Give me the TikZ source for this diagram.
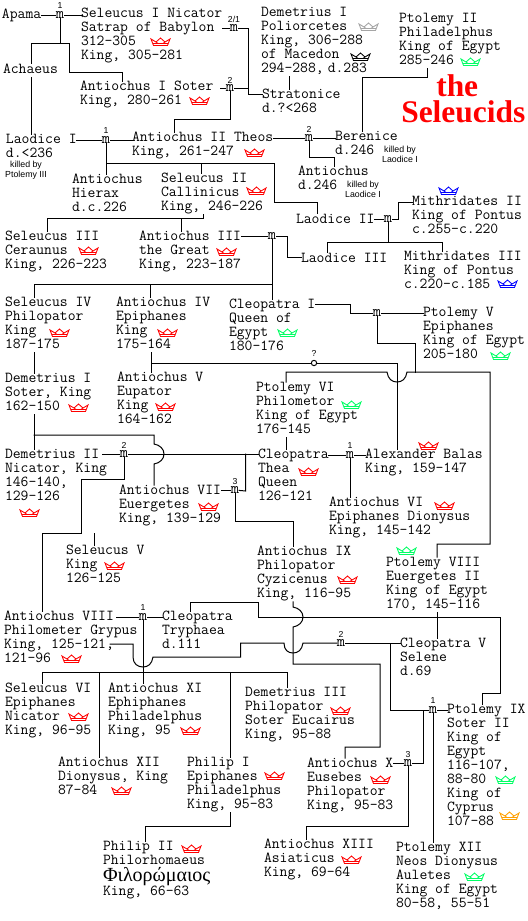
\documentclass[tikz,border=0pt]{standalone}
\usepackage{fontspec}
\newfontfamily\greekfont{Liberation Serif}
\newfontfamily\titlefont{Liberation Serif}
\newfontfamily\notefont{Liberation Sans}
\definecolor{crR}{RGB}{255,0,0}
\definecolor{crG}{RGB}{0,255,100}
\definecolor{crB}{RGB}{0,0,255}
\definecolor{crO}{RGB}{255,160,0}
\definecolor{crA}{RGB}{165,165,165}
\definecolor{crK}{RGB}{0,0,0}
\tikzset{
  person/.style={anchor=north west,inner sep=0pt,outer sep=0pt,align=left,
    font=\ttfamily\fontsize{11.43pt}{10.5pt}\selectfont,
    execute at begin node=\strut,execute at end node=\strut},
  killnote/.style={anchor=north,inner sep=0pt,outer sep=0pt,align=center,
    font=\notefont\fontsize{6.6pt}{7.5pt}\selectfont,
    execute at begin node=\strut,execute at end node=\strut},
  marr/.style={inner sep=0pt,outer sep=0pt,font=\ttfamily\fontsize{12pt}{12pt}\selectfont},
  mnum/.style={inner sep=0pt,outer sep=0pt,font=\notefont\fontsize{6.5pt}{6.5pt}\selectfont},
  ring/.style={circle,draw=black,line width=.75pt,minimum size=4pt,inner sep=0pt,outer sep=0pt},
  title/.style={anchor=base west,inner sep=0pt,text=crR,font=\titlefont\bfseries\fontsize{23.6pt}{24pt}\selectfont},
  cn/.style={draw=black,line width=.75pt,line cap=rect,line join=miter},
  crown/.pic={
    \path[pic actions,line width=.65pt,line join=miter]
      (0,1) -- (5,4) -- (9.5,0) -- (14,4) -- (19,1) -- (16.5,7.5) -- (2.5,7.5) -- cycle
      (2,5.5) -- (17,5.5) (5,4) -- (7,5.5) (14,4) -- (12,5.5);
  }
}
\newcommand\pers[4]{\node[person] (#1) at (#2,{#3-9.8}) {#4};}
\newcommand\note[4]{\node[killnote] (#1) at (#2,{#3-7}) {#4};}
\newcommand\crownat[3]{\pic[draw=#1] at (#2,#3) {crown};}
\newcommand\marrat[3]{\node[marr] (#1) at (#2,#3) {m};}
\newcommand\numat[4]{\node[mnum] (#1) at (#2,{#3-1}) {#4};}
\begin{document}
\begin{tikzpicture}[x=.75pt,y=-.75pt]
\useasboundingbox (0,0) rectangle (528,921);
\fill[white] (0,0) rectangle (528,921);
% ---------- people
\pers{apama}{2}{18}{Apama}
\pers{sel1}{81}{18}{Seleucus I Nicator\\Satrap of Babylon\\312-305\\King, 305-281}
\pers{achaeus}{3}{73}{Achaeus}
\pers{anti1}{80}{91}{Antiochus I Soter\\King, 280-261}
\pers{dem1p}{261}{17}{Demetrius I\\Poliorcetes\\King, 306-288\\of Macedon\\294-288,\kern3pt d.283}
\pers{strat}{262}{99}{Stratonice\\d.?<268}
\pers{ptol2}{399}{23}{Ptolemy II\\Philadelphus\\King of Egypt\\285-246}
\node[title] (tthe) at (436,96) {the};
\node[title] (tsel) at (401,122) {Seleucids};
\pers{laod1}{6}{144}{Laodice I\\d.<236}
\note{n1}{26}{168}{killed by\\Ptolemy III}
\pers{anti2}{132}{142}{Antiochus II Theos\\King, 261-247}
\pers{beren}{335}{141}{Berenice\\d.246}
\note{n2}{400}{153}{killed by\\Laodice I}
\pers{antid}{298}{176}{Antiochus\\d.246}
\note{n3}{363}{188}{killed by\\Laodice I}
\pers{hierax}{72}{184}{Antiochus\\Hierax\\d.c.226}
\pers{sel2}{161}{183}{Seleucus II\\Callinicus\\King, 246-226}
\pers{laod2}{296}{223}{Laodice II}
\pers{mith2}{412}{206}{Mithridates II\\King of Pontus\\c.255-c.220}
\pers{sel3}{5}{241}{Seleucus III\\Ceraunus\\King, 226-223}
\pers{anti3}{139}{241}{Antiochus III\\the Great\\King, 223-187}
\pers{laod3}{301}{262}{Laodice III}
\pers{mith3}{404}{261}{Mithridates III\\King of Pontus\\c.220-c.185}
\pers{sel4}{5}{307}{Seleucus IV\\Philopator\\King\\187-175}
\pers{anti4}{116}{307}{Antiochus IV\\Epiphanes\\King\\175-164}
\pers{cleo1}{229}{309}{Cleopatra I\\Queen of\\Egypt\\180-176}
\pers{ptol5}{423}{317}{Ptolemy V\\Epiphanes\\King of Egypt\\205-180}
\pers{anti5}{117}{382}{Antiochus V\\Eupator\\King\\164-162}
\pers{dem1s}{5}{383}{Demetrius I\\Soter, King\\162-150}
\pers{ptol6}{256}{392}{Ptolemy VI\\Philometor\\King of Egypt\\176-145}
\pers{dem2}{5}{459}{Demetrius II\\Nicator, King\\146-140,\\129-126}
\pers{cleoT}{258}{459}{Cleopatra\\Thea\\Queen\\126-121}
\pers{alex}{365}{459}{Alexander Balas\\King, 159-147}
\pers{anti7}{119}{495}{Antiochus VII\\Euergetes\\King, 139-129}
\pers{anti6}{329}{507}{Antiochus VI\\Epiphanes Dionysus\\King, 145-142}
\pers{sel5}{66}{555}{Seleucus V\\King\\126-125}
\pers{anti9}{257}{556}{Antiochus IX\\Philopator\\Cyzicenus\\King, 116-95}
\pers{ptol8}{386}{567}{Ptolemy VIII\\Euergetes II\\King of Egypt\\170, 145-116}
\pers{anti8}{4}{621}{Antiochus VIII\\Philometer Grypus\\King, 125-121,\\121-96}
\pers{tryph}{162}{621}{Cleopatra\\Tryphaea\\d.111}
\pers{cleoV}{400}{648}{Cleopatra V\\Selene\\d.69}
\pers{sel6}{5}{693}{Seleucus VI\\Epiphanes\\Nicator\\King, 96-95}
\pers{anti11}{108}{693}{Antiochus XI\\Ephiphanes\\Philadelphus\\King, 95}
\pers{dem3}{245}{697}{Demetrius III\\Philopator\\Soter Eucairus\\King, 95-88}
\pers{ptol9}{447}{714}{Ptolemy IX\\Soter II\\King of\\Egypt\\116-107,\\88-80\\King of\\Cyprus\\107-88}
\pers{anti12}{58}{767}{Antiochus XII\\Dionysus, King\\87-84}
\pers{phil1}{187}{767}{Philip I\\Epiphanes\\Philadelphus\\King, 95-83}
\pers{anti10}{307}{768}{Antiochus X\\Eusebes\\Philopator\\King, 95-83}
\pers{anti13}{264}{849}{Antiochus XIII\\Asiaticus\\King, 69-64}
\pers{phil2}{103}{851}{Philip II\\Philorhomaeus\\[2.25pt]\smash{\greekfont\fontsize{15pt}{10.5pt}\selectfont Φιλορώμαιος}\\King, 66-63}
\pers{ptol12}{396}{852}{Ptolemy XII\\Neos Dionysus\\Auletes\\King of Egypt\\80-58, 55-51}
% ---------- marriage marks
\marrat{mA}{60}{15}\numat{lA}{60}{7}{1}
\marrat{mS}{234}{28}\numat{lS}{234}{20}{2/1}
\marrat{mB}{230}{88}\numat{lB}{230}{81}{2}
\marrat{mC}{106}{140}\numat{lC}{106}{132}{1}
\marrat{mD}{309}{138}\numat{lD}{309}{130}{2}
\marrat{mE}{388}{219}
\marrat{mF}{272}{236}
\marrat{mG}{377}{313}
\node[ring] (mQ) at (314,363) {};\numat{lQ}{314}{354}{?}
\marrat{mH}{124}{454}\numat{lH}{124}{446}{2}
\marrat{mI}{350}{455}\numat{lI}{350}{447}{1}
\marrat{mJ}{235}{490}\numat{lJ}{235}{483}{3}
\marrat{mK}{143}{617}\numat{lK}{143}{609}{1}
\marrat{mL}{341}{643}\numat{lL}{341}{635}{2}
\marrat{mM}{433}{710}\numat{lM}{433}{702}{1}
\marrat{mN}{408}{763}\numat{lN}{408}{756}{3}
% ---------- connectors
\draw[cn] (apama.east |- mA) -- (mA);
\draw[cn] (mA) -- (sel1.west |- mA);
\draw[cn] (mA) -- (60,43) -- (31,43) -- (31,0 |- achaeus.north);
\draw[cn] (60,43) -- (69.5,43) -- (69.5,72) -- (122.5,72) -- (122.5,0 |- anti1.north);
\draw[cn] (31,0 |- achaeus.south) -- (31,0 |- laod1.north);
\draw[cn] (sel1.east |- mS) -- (mS);
\draw[cn] (mS) -- (248,28) -- (248,94) -- (strat.west |- 248,94);
\draw[cn] (220,88) -- (mB);
\draw[cn] (mB) -- (248,88);
\draw[cn] (mB) -- (230,119) -- (174.5,119) -- (174.5,0 |- anti2.north);
\draw[cn] (289,0 |- dem1p.south) -- (289,0 |- strat.north);
\draw[cn] (427,0 |- ptol2.south) -- (427,77) -- (362,77) -- (362,0 |- beren.north);
\draw[cn] (laod1.east |- mC) -- (mC);
\draw[cn] (mC) -- (anti2.west |- mC);
\draw[cn] (mC) -- (mC |- hierax.north);
\draw[cn] (106,163) -- (274,163) -- (274,202) -- (317,202) -- (317,0 |- laod2.north);
\draw[cn] (201,163) -- (201,0 |- sel2.north);
\draw[cn] (anti2.east |- mD) -- (mD);
\draw[cn] (mD) -- (beren.west |- mD);
\draw[cn] (mD) -- (309,157) -- (334,157) -- (334,0 |- antid.north);
\draw[cn] (203,0 |- sel2.south) -- (203,218) -- (47,218) -- (47,0 |- sel3.north);
\draw[cn] (181,218) -- (181,0 |- anti3.north);
\draw[cn] (laod2.east |- mE) -- (mE);
\draw[cn] (mE) -- (398,219) -- (398,202) -- (mith2.west |- 398,202);
\draw[cn] (mE) -- (388,242);
\draw[cn] (327,0 |- laod3.north) -- (327,242) -- (442,242) -- (442,0 |- mith3.north);
\draw[cn] (anti3.east |- mF) -- (mF);
\draw[cn] (mF) -- (287,236) -- (287,257) -- (laod3.west |- 287,257);
\draw[cn] (mF) -- (272,0 |- cleo1.north);
\draw[cn] (34,0 |- sel4.north) -- (34,284) -- (272,284);
\draw[cn] (150,284) -- (150,0 |- anti4.north);
\draw[cn] (cleo1.east |- 0,304) -- (350,304) -- (350,313) -- (mG);
\draw[cn] (mG) -- (ptol5.west |- mG);
\draw[cn] (mG) -- (377,343) -- (415,343) -- (415,372);
\draw[cn] (286,0 |- ptol6.north) -- (286,372) -- (387,372)
   .. controls (388,379) and (392,382) .. (397,382)
   .. controls (402,382) and (406,379) .. (407,372)
   -- (490,372) -- (490,544) -- (437,544) -- (437,0 |- ptol8.north);
\draw[cn] (151,0 |- anti4.south) -- (151,0 |- anti5.north);
\draw[cn] (151,363) -- (mQ);
\draw[cn] (mQ) -- (397,363) -- (397,0 |- alex.north);
\draw[cn] (34,0 |- sel4.south) -- (34,0 |- dem1s.north);
\draw[cn] (34,0 |- dem1s.south) -- (34,0 |- dem2.north);
\draw[cn] (34,435) -- (154,435) -- (154,444)
   .. controls (160,445) and (164,449) .. (164,454)
   .. controls (164,459) and (160,463) .. (154,464)
   -- (154,0 |- anti7.north);
\draw[cn] (102,454) -- (mH);
\draw[cn] (mH) -- (cleoT.west |- mH);
\draw[cn] (mH) -- (124,479) -- (81.5,479) -- (81.5,533) -- (42,533) -- (42,0 |- anti8.north);
\draw[cn] (94,533) -- (94,0 |- sel5.north);
\draw[cn] (286,0 |- ptol6.south) -- (286,0 |- cleoT.north);
\draw[cn] (cleoT.east |- mI) -- (mI);
\draw[cn] (mI) -- (alex.west |- mI);
\draw[cn] (mI) -- (mI |- anti6.north);
\draw[cn] (245.5,454) -- (245.5,491) -- (mJ);
\draw[cn] (anti7.east |- mJ) -- (mJ);
\draw[cn] (mJ) -- (235,521) -- (293,521) -- (293,0 |- anti9.north);
\draw[cn] (116,617) -- (mK);
\draw[cn] (mK) -- (tryph.west |- mK);
\draw[cn] (190,0 |- tryph.north) -- (190,602.5) -- (258,602.5) -- (258,617) -- (500,617) -- (500,693) -- (482,693) -- (482,0 |- ptol9.north);
\draw[cn] (mK) -- (mK |- anti11.north);
\draw[cn] (42,0 |- sel6.north) -- (42,672) -- (287,672) -- (287,0 |- dem3.north);
\draw[cn] (99.5,672) -- (99.5,0 |- anti12.north);
\draw[cn] (230.5,672) -- (230.5,0 |- phil1.north);
\draw[cn] (110,644) -- (133,644) -- (133,657)
   .. controls (133,664) and (138,667) .. (143,667)
   .. controls (148,667) and (152,664) .. (153,657)
   -- (240.5,657) -- (240.5,643) -- (284,643)
   .. controls (284,650) and (288,653) .. (293,653)
   .. controls (298,653) and (302,650) .. (303,643)
   -- (mL);
\draw[cn] (mL) -- (cleoV.west |- mL);
\draw[cn] (293,0 |- anti9.south) -- (293,607)
   .. controls (299,608) and (303,612) .. (303,617)
   .. controls (303,622) and (299,626) .. (293,627)
   -- (293,664) -- (380,664) -- (380,747) -- (345,747) -- (345,0 |- anti10.north);
\draw[cn] (437,0 |- ptol8.south) -- (437,0 |- cleoV.north);
\draw[cn] (390.5,643) -- (390.5,710) -- (mM);
\draw[cn] (mM) -- (ptol9.west |- mM);
\draw[cn] (423,710) -- (423,763) -- (mN);
\draw[cn] (anti10.east |- mN) -- (mN);
\draw[cn] (mN) -- (408,826) -- (306,826) -- (306,0 |- anti13.north);
\draw[cn] (mM) -- (mM |- ptol12.north);
\draw[cn] (230.5,0 |- phil1.south) -- (230.5,826) -- (145.5,826) -- (145.5,0 |- phil2.north);
% ---------- crowns
\crownat{crR}{151}{38}
\crownat{crR}{190}{97}
\crownat{crA}{359}{23}
\crownat{crK}{351}{53}
\crownat{crG}{461}{58}
\crownat{crR}{245}{149}
\crownat{crR}{247}{187}
\crownat{crB}{439}{187}
\crownat{crR}{79}{247}
\crownat{crR}{217}{248}
\crownat{crB}{498}{280}
\crownat{crR}{50}{329}
\crownat{crR}{158}{329}
\crownat{crG}{278}{329}
\crownat{crG}{491}{352}
\crownat{crR}{69}{404}
\crownat{crR}{156}{403}
\crownat{crG}{342}{401}
\crownat{crR}{419}{442}
\crownat{crR}{299}{468}
\crownat{crR}{199}{503}
\crownat{crR}{20}{509}
\crownat{crR}{435}{502}
\crownat{crG}{397}{547}
\crownat{crR}{105}{562}
\crownat{crR}{338}{576}
\crownat{crR}{62}{655}
\crownat{crR}{69}{713}
\crownat{crR}{181}{727}
\crownat{crR}{331}{707}
\crownat{crR}{265}{772}
\crownat{crR}{371}{776}
\crownat{crG}{496}{776}
\crownat{crO}{500}{812}
\crownat{crR}{112}{787}
\crownat{crR}{182}{845}
\crownat{crR}{342}{856}
\crownat{crG}{465}{873}
\end{tikzpicture}
\end{document}
